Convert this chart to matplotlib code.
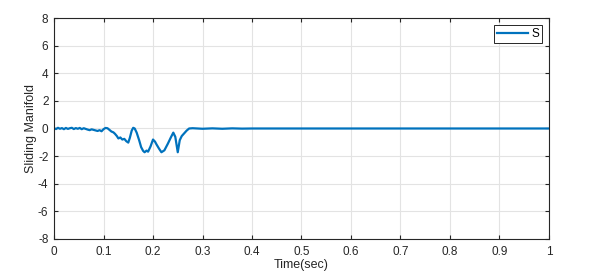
import matplotlib.pyplot as plt

plt.rcParams['font.family'] = ['Liberation Sans', 'DejaVu Sans']
plt.rcParams['axes.unicode_minus'] = False

# Sliding manifold trace
time = [0.000, 0.004, 0.008, 0.012, 0.016, 0.020, 0.024, 0.028, 0.032, 0.036,
        0.040, 0.044, 0.048, 0.052, 0.056, 0.060, 0.064, 0.068, 0.072, 0.076,
        0.080, 0.084, 0.088, 0.092, 0.096, 0.100, 0.104, 0.108, 0.112, 0.116,
        0.120, 0.123, 0.127, 0.130, 0.134, 0.138, 0.142, 0.146, 0.150, 0.153,
        0.157, 0.160, 0.163, 0.167, 0.172, 0.176, 0.180, 0.183, 0.187, 0.190,
        0.195, 0.200, 0.204, 0.207, 0.212, 0.217, 0.220, 0.223, 0.230, 0.236,
        0.241, 0.245, 0.250, 0.254, 0.258, 0.263, 0.268, 0.273, 0.280, 0.300,
        0.320, 0.340, 0.360, 0.380, 0.400, 0.450, 0.500, 0.600, 0.700, 0.800,
        0.900, 1.000]
s_values = [0.02, -0.04, 0.05, -0.02, 0.03, -0.05, 0.04, -0.03, 0.02, 0.05,
            -0.04, 0.03, -0.02, 0.04, -0.05, 0.02, -0.03, -0.08, -0.12, -0.06,
            -0.10, -0.14, -0.18, -0.12, -0.20, -0.05, 0.04, 0.02, -0.10, -0.22,
            -0.28, -0.38, -0.55, -0.72, -0.65, -0.80, -0.75, -0.92, -1.02, -0.70,
            -0.15, 0.05, 0.00, -0.30, -0.85, -1.35, -1.62, -1.72, -1.60, -1.68,
            -1.30, -0.80, -0.95, -1.15, -1.45, -1.72, -1.65, -1.58, -1.10, -0.65,
            -0.30, -0.60, -1.72, -0.85, -0.55, -0.35, -0.15, 0.00, 0.02, -0.02,
            0.01, -0.02, 0.01, -0.01, 0.00, 0.00, 0.00, 0.00, 0.00, 0.00,
            0.00, 0.00]

x_ticks = [0, 0.1, 0.2, 0.3, 0.4, 0.5, 0.6, 0.7, 0.8, 0.9, 1]
x_tick_labels = ['0', '0.1', '0.2', '0.3', '0.4', '0.5', '0.6', '0.7', '0.8', '0.9', '1']
y_ticks = [-8, -6, -4, -2, 0, 2, 4, 6, 8]

fig = plt.figure(figsize=(5.97, 2.75), dpi=100)
ax = fig.add_axes([0.0905, 0.131, 0.829, 0.8035])

ax.plot(time, s_values, color='#0072BD', linewidth=1.6, label='S')

ax.set_xlim(0, 1)
ax.set_ylim(-8, 8)
ax.set_xticks(x_ticks)
ax.set_xticklabels(x_tick_labels)
ax.set_yticks(y_ticks)
ax.grid(True, color='#e3e3e3', linewidth=0.8)
ax.set_axisbelow(True)

ax.tick_params(direction='in', length=3, width=0.8, labelsize=8.5, colors='#262626',
               top=True, right=True)
ax.tick_params(axis='x', pad=5)
ax.tick_params(axis='y', pad=4)
for sp in ax.spines.values():
    sp.set_color('#262626')
    sp.set_linewidth(0.8)

ax.set_xlabel('Time(sec)', fontsize=9, labelpad=1, color='#262626')
ax.set_ylabel('Sliding Manifold', fontsize=9, labelpad=0.5, color='#262626')

leg = ax.legend(loc='upper right', fontsize=8.5, handlelength=2.6, handletextpad=0.3,
                borderpad=0.25, fancybox=False, framealpha=1, edgecolor='#262626',
                borderaxespad=0.6)
leg.get_frame().set_linewidth(0.7)

fig.savefig('out.png', dpi=100)
